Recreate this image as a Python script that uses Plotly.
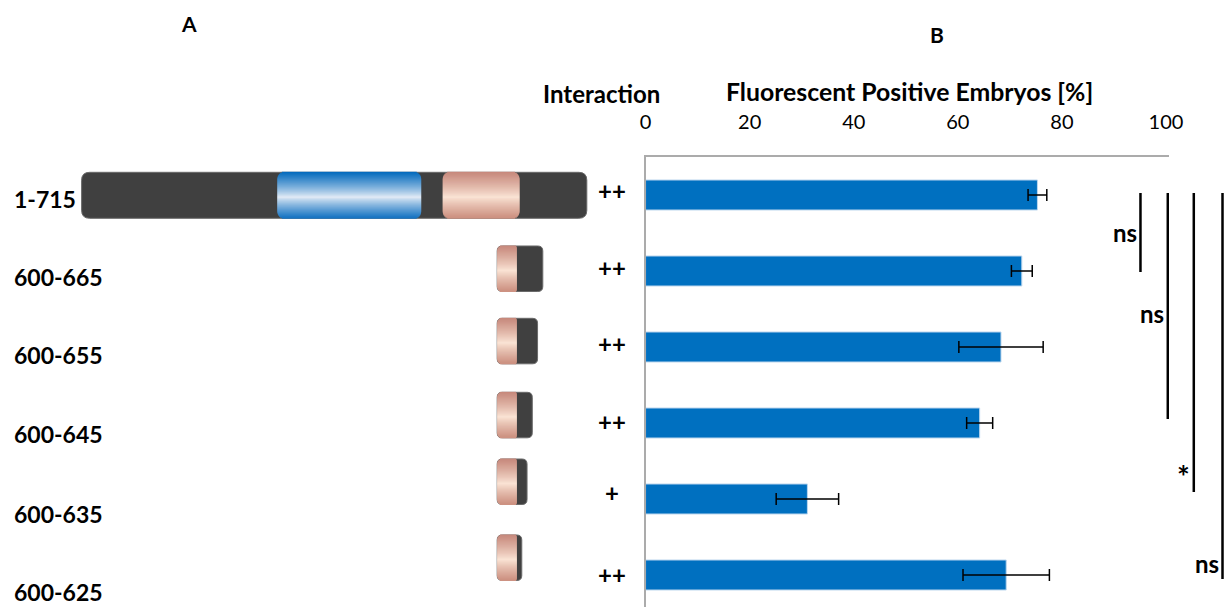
import plotly.graph_objects as go

# ---------------- data ----------------
constructs = ["1-715", "600-665", "600-655", "600-645", "600-635", "600-625"]
fluorescent_pct = [75.3, 72.3, 68.3, 64.2, 31.1, 69.3]
fluorescent_err = [1.8, 2.0, 8.1, 2.5, 6.0, 8.3]
interaction = ["++", "++", "++", "++", "+", "++"]
construct_end = [715, 665, 655, 645, 635, 625]
sig_compared = ["600-665", "600-645", "600-635", "600-625"]
sig_label = ["ns", "ns", "*", "ns"]
x_ticks = [0, 20, 40, 60, 80, 100]

# ---------------- layout constants (target pixels) ----------------
W_PAGE, H = 1245, 607
SX, OX = 0.9827, 6.73          # observed horizontal mapping of the capture
PLOT_L, PLOT_R, PLOT_T, PLOT_B = 646, 1168.8, 157, 607
FONT = "Lato"
BLUE = "#0070C0"
DARK = "#404040"

LABEL_X = 13
LABEL_Y = [199, 276.5, 355, 434, 514, 592]
INTER_X = 612.7
INTER_Y = [190, 267, 343, 421, 492, 574]
DIAG_TOP = [172.3, 246, 318.3, 392.3, 459, 535]
DIAG_H = [46, 45.5, 45.5, 45.5, 45.5, 45.5]
SIG_X = [1140.7, 1168, 1194, 1222.7]
SIG_Y0 = 193
SIG_Y1 = [272, 419, 492, 579]
SIG_TXT_Y = [232, 313, 476, 563]


def px(x):
    return ((x - OX) / SX) / W_PAGE


def py(y):
    return 1 - y / H


def lerp(c1, c2, t):
    a = [int(c1[i:i + 2], 16) for i in (1, 3, 5)]
    b = [int(c2[i:i + 2], 16) for i in (1, 3, 5)]
    return "rgb(%d,%d,%d)" % tuple(round(a[k] + (b[k] - a[k]) * t) for k in range(3))


def rounded_path(x0, y0, x1, y1, rl, rr):
    pts = [
        ("M", x0 + rl, y0),
        ("L", x1 - rr, y0),
        ("Q", x1, y0, x1, y0 + rr),
        ("L", x1, y1 - rr),
        ("Q", x1, y1, x1 - rr, y1),
        ("L", x0 + rl, y1),
        ("Q", x0, y1, x0, y1 - rl),
        ("L", x0, y0 + rl),
        ("Q", x0, y0, x0 + rl, y0),
    ]
    s = ""
    for p in pts:
        coords = p[1:]
        parts = ["%.5f,%.5f" % (px(coords[i]), py(coords[i + 1])) for i in range(0, len(coords), 2)]
        s += p[0] + " " + " ".join(parts) + " "
    return s + "Z"


def gradient_strips(x0, y0, x1, y1, edge_top, mid, edge_bot, rl, rr):
    shapes = []
    n = int(round(y1 - y0))
    h = (y1 - y0) / n
    for k in range(n):
        ya = y0 + k * h
        yb = ya + h
        yc = (ya + yb) / 2
        rel = (yc - y0) / (y1 - y0)
        if rel < 0.55:
            t = 1 - rel / 0.55
            col = lerp(mid, edge_top, t ** 0.85)
        else:
            t = (rel - 0.55) / 0.45
            col = lerp(mid, edge_bot, t ** 0.85)
        d = min(yc - y0, y1 - yc)

        def inset(r):
            if d >= r or r == 0:
                return 0
            return r - (r * r - (r - d) ** 2) ** 0.5

        xa = x0 + inset(rl)
        xb = x1 - inset(rr)
        shapes.append(dict(type="rect", xref="paper", yref="paper",
                           x0=px(xa), x1=px(xb), y0=py(ya - 0.5), y1=py(yb + 0.5),
                           fillcolor=col, line=dict(width=0), layer="above"))
    return shapes


fig = go.Figure()
fig.add_trace(go.Bar(
    x=fluorescent_pct, y=constructs, orientation="h",
    width=0.395,
    marker=dict(color=BLUE, line=dict(color="#BDD7EE", width=1)),
    error_x=dict(type="data", array=fluorescent_err, color="black", thickness=1.5, width=6),
    showlegend=False, hoverinfo="x+y",
))

shapes = []
annotations = []

SAL_TOP, SAL_MID, SAL_BOT = "#C6877A", "#FBE5D6", "#CC9080"
BLU_TOP, BLU_MID, BLU_BOT = "#0068BC", "#E4ECF6", "#1473C2"
for i, name in enumerate(constructs):
    top = DIAG_TOP[i]
    bot = top + DIAG_H[i]
    if construct_end[i] == 715:
        x0, x1 = 82.3, 587.3
        shapes.append(dict(type="path", xref="paper", yref="paper",
                           path=rounded_path(x0, top, x1, bot, 8, 8),
                           fillcolor=DARK, line=dict(color="#6a6a6a", width=1), layer="above"))
        shapes += gradient_strips(278, top, 421.7, bot, BLU_TOP, BLU_MID, BLU_BOT, 7, 7)
        shapes += gradient_strips(443.3, top, 520, bot, SAL_TOP, SAL_MID, SAL_BOT, 7, 7)
    else:
        x0 = 497.7
        x1 = 522.3 + (construct_end[i] - 625) * 0.525
        shapes.append(dict(type="path", xref="paper", yref="paper",
                           path=rounded_path(x0, top, x1, bot, 5, 5),
                           fillcolor=DARK, line=dict(color="#6a6a6a", width=1), layer="above"))
        shapes += gradient_strips(x0, top, 517.3, bot, SAL_TOP, SAL_MID, SAL_BOT, 5, 2)

    annotations.append(dict(text=name, xref="paper", yref="paper", x=px(LABEL_X), y=py(LABEL_Y[i]),
                            xanchor="left", yanchor="middle", showarrow=False,
                            font=dict(family=FONT, size=23, color="black", weight="bold")))
    annotations.append(dict(text=interaction[i], xref="paper", yref="paper", x=px(INTER_X), y=py(INTER_Y[i]),
                            xanchor="center", yanchor="middle", showarrow=False,
                            font=dict(family=FONT, size=24, color="black", weight="bold")))

for j, (comp, lab) in enumerate(zip(sig_compared, sig_label)):
    shapes.append(dict(type="line", xref="paper", yref="paper",
                       x0=px(SIG_X[j]), x1=px(SIG_X[j]), y0=py(SIG_Y0), y1=py(SIG_Y1[j]),
                       line=dict(color="black", width=2.5), layer="above"))
    annotations.append(dict(text=lab, xref="paper", yref="paper", x=px(SIG_X[j] - 1.5), y=py(SIG_TXT_Y[j]),
                            xanchor="right", yanchor="middle", showarrow=False,
                            font=dict(family=FONT, size=24 if lab == "ns" else 30, color="black",
                                      weight="bold")))

annotations += [
    dict(text="A", xref="paper", yref="paper", x=px(190), y=py(24), xanchor="center", yanchor="middle",
         showarrow=False, font=dict(family=FONT, size=21, color="black", weight="bold")),
    dict(text="B", xref="paper", yref="paper", x=px(937), y=py(34), xanchor="center", yanchor="middle",
         showarrow=False, font=dict(family=FONT, size=21, color="black", weight="bold")),
    dict(text="Interaction", xref="paper", yref="paper", x=px(602), y=py(93), xanchor="center",
         yanchor="middle", showarrow=False, font=dict(family=FONT, size=24, color="black", weight="bold")),
    dict(text="Fluorescent Positive Embryos [%]", xref="paper", yref="paper", x=px(910), y=py(91),
         xanchor="center", yanchor="middle", showarrow=False,
         font=dict(family=FONT, size=24.8, color="black", weight="bold")),
]

fig.update_layout(
    width=W_PAGE, height=H,
    margin=dict(l=0, r=0, t=0, b=0, pad=0),
    paper_bgcolor="white", plot_bgcolor="white",
    shapes=shapes, annotations=annotations,
    xaxis=dict(domain=[px(PLOT_L), px(PLOT_R)], range=[0, 100.5], side="top",
               tickvals=x_ticks, ticktext=[str(v) for v in x_ticks], ticks="",
               tickfont=dict(family=FONT, size=20, color="black"), ticklabelstandoff=18,
               showline=True, linecolor="#ABABAB", linewidth=1.5, showgrid=False, zeroline=False,
               fixedrange=True),
    yaxis=dict(domain=[0, 1 - PLOT_T / H], type="category", categoryorder="array",
               categoryarray=constructs, range=[5.421, -0.5], showticklabels=False,
               showline=True, linecolor="#ABABAB", linewidth=1.5, showgrid=False, zeroline=False,
               ticks="", fixedrange=True),
)

fig.write_html("out.html", config={"displayModeBar": False},
               post_script="document.documentElement.style.overflow='hidden';"
                           "document.body.style.margin='0';document.body.style.overflow='hidden';")
